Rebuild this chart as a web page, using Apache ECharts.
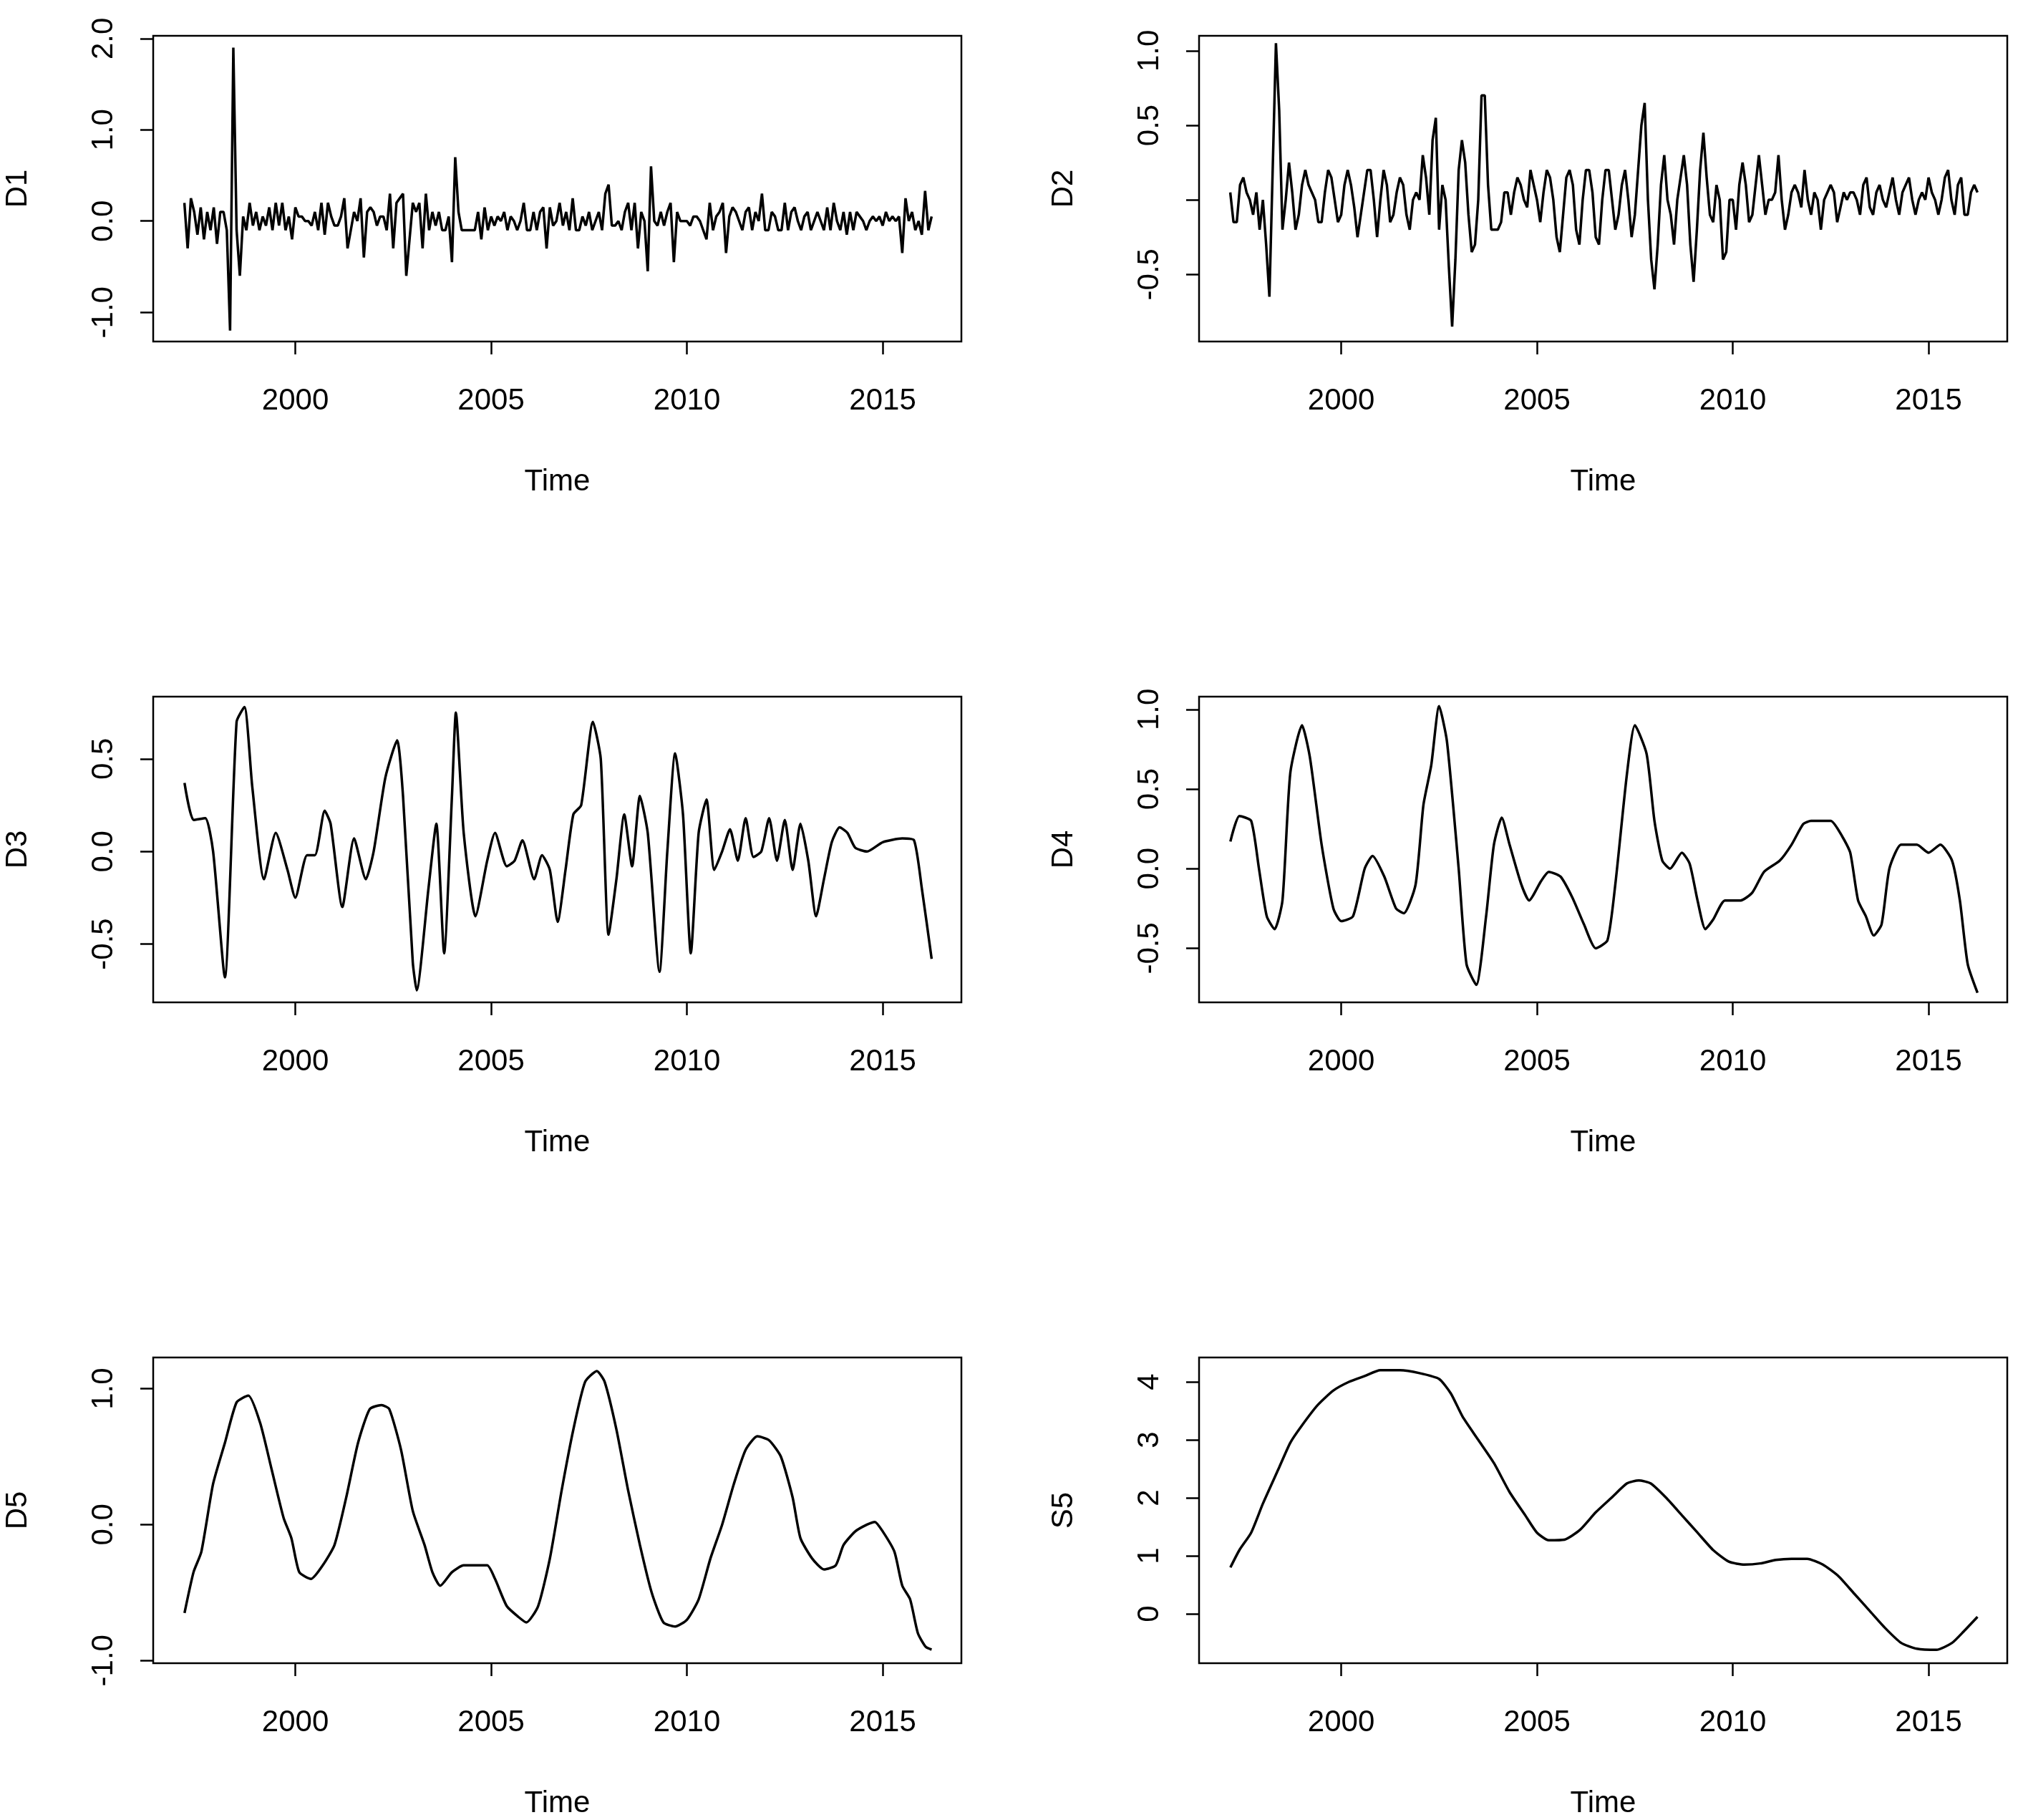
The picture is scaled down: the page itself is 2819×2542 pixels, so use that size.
<!DOCTYPE html>
<html lang="en">
<head>
<meta charset="UTF-8">
<title>Wavelet decomposition</title>
<script src="https://cdn.jsdelivr.net/npm/echarts@6/dist/echarts.min.js"></script>
<style>html,body{margin:0;padding:0;background:#fff}#main{width:2819px;height:2542px}</style>
</head>
<body>
<div id="main"></div>
<script>
// monthly series, start March 1997
let startMonthly = 1997 + 2 / 12;
let d1 = [
  0.2,-0.3,0.25,0.1,-0.15,0.15,-0.2,0.1,-0.1,0.15,
  -0.25,0.1,0.1,-0.1,-1.2,1.9,-0.1,-0.6,0.05,-0.1,0.2,-0.05,0.1,-0.1,
  0.05,-0.05,0.15,-0.1,0.2,-0.05,0.2,-0.1,0.05,-0.2,0.15,0.05,
  0.05,0,0.0,-0.05,0.1,-0.1,0.2,-0.15,0.2,0.05,-0.05,-0.05,
  0.05,0.25,-0.3,-0.1,0.1,0.0,0.25,-0.4,0.1,0.15,0.1,-0.05,
  0.05,0.05,-0.1,0.3,-0.3,0.2,0.25,0.3,-0.6,-0.2,0.2,0.1,
  0.2,-0.3,0.3,-0.1,0.1,-0.05,0.1,-0.1,-0.1,0.05,-0.45,0.7,
  0.1,-0.1,-0.1,-0.1,-0.1,-0.1,0.1,-0.2,0.15,-0.1,0.05,-0.05,
  0.05,0.0,0.1,-0.1,0.05,0.0,-0.1,0.0,0.2,-0.1,-0.1,0.1,
  -0.1,0.1,0.15,-0.3,0.15,-0.05,0.0,0.2,-0.05,0.1,-0.1,0.25,
  -0.1,-0.1,0.05,-0.05,0.1,-0.1,0.0,0.1,-0.1,0.3,0.4,-0.05,
  -0.05,0.0,-0.1,0.1,0.2,-0.1,0.2,-0.3,0.1,0.0,-0.55,0.6,
  0.0,-0.05,0.1,-0.05,0.1,0.2,-0.45,0.1,0.0,0.0,0.0,-0.05,
  0.05,0.05,0.0,-0.1,-0.2,0.2,-0.1,0.05,0.1,0.2,-0.35,0.05,
  0.15,0.1,0.0,-0.1,0.1,0.15,-0.1,0.1,0.0,0.3,-0.1,-0.1,
  0.1,0.05,-0.1,-0.1,0.2,-0.1,0.1,0.15,0.0,-0.1,0.05,0.1,
  -0.1,0.0,0.1,0.0,-0.1,0.15,-0.1,0.2,0.0,-0.1,0.1,-0.15,
  0.1,-0.1,0.1,0.05,0.0,-0.1,0.0,0.05,0.0,0.05,-0.05,0.1,
  0.0,0.05,0.0,0.05,-0.35,0.25,0.0,0.1,-0.1,0.0,-0.15,0.33,
  -0.1,0.05
];
let d2 = [
  0.05,-0.15,-0.15,0.1,0.15,0.05,0.0,-0.1,0.05,-0.2,
  0.0,-0.3,-0.65,0.2,1.05,0.6,-0.2,0.0,0.25,0.05,-0.2,-0.1,0.1,
  0.2,0.1,0.05,0.0,-0.15,-0.15,0.05,0.2,0.15,0.0,-0.15,
  -0.1,0.1,0.2,0.1,-0.05,-0.25,-0.1,0.05,0.2,0.2,0.0,-0.25,
  0.0,0.2,0.1,-0.15,-0.1,0.05,0.15,0.1,-0.1,-0.2,0.0,0.05,
  0.0,0.3,0.15,-0.1,0.4,0.55,-0.2,0.1,0.0,-0.45,-0.85,-0.4,
  0.2,0.4,0.25,-0.1,-0.35,-0.3,0.0,0.7,0.7,0.1,-0.2,-0.2,
  -0.2,-0.15,0.05,0.05,-0.1,0.05,0.15,0.1,0.0,-0.05,0.2,0.1,
  0.0,-0.15,0.05,0.2,0.15,0.0,-0.25,-0.35,-0.1,0.15,0.2,0.1,
  -0.2,-0.3,0.0,0.2,0.2,0.05,-0.25,-0.3,0.0,0.2,0.2,0.0,
  -0.2,-0.1,0.1,0.2,0.0,-0.25,-0.1,0.2,0.5,0.65,0.0,-0.4,
  -0.6,-0.3,0.1,0.3,0.0,-0.1,-0.3,0.0,0.15,0.3,0.1,-0.3,
  -0.55,-0.2,0.2,0.45,0.15,-0.1,-0.15,0.1,0.0,-0.4,-0.35,0.0,
  0.0,-0.2,0.1,0.25,0.1,-0.15,-0.1,0.1,0.3,0.1,-0.1,0.0,
  0.0,0.05,0.3,0.0,-0.2,-0.1,0.05,0.1,0.05,-0.05,0.2,0.0,
  -0.1,0.05,0.0,-0.2,0.0,0.05,0.1,0.05,-0.15,-0.05,0.05,0.0,
  0.05,0.05,0.0,-0.1,0.1,0.15,-0.05,-0.1,0.05,0.1,0.0,-0.05,
  0.05,0.15,0.0,-0.1,0.05,0.1,0.15,0.0,-0.1,0.0,0.05,0.0,
  0.15,0.05,0.0,-0.1,0.0,0.15,0.2,0.0,-0.1,0.1,0.15,-0.1,
  -0.1,0.05,0.1,0.05
];

// smoother components read at key points
let d3Time = [1997.17,1997.4,1997.7,1997.9,1998.2,1998.5,1998.7,1998.9,1999.2,1999.5,1999.8,2000.0,2000.3,2000.5,2000.75,2000.9,2001.2,2001.5,2001.8,2002.0,2002.3,2002.6,2002.75,2003.0,2003.1,2003.4,2003.6,2003.8,2004.0,2004.1,2004.3,2004.6,2004.9,2005.1,2005.4,2005.6,2005.8,2006.1,2006.3,2006.5,2006.7,2006.9,2007.1,2007.3,2007.6,2007.8,2008.0,2008.2,2008.4,2008.6,2008.8,2009.0,2009.3,2009.5,2009.7,2009.9,2010.1,2010.3,2010.5,2010.7,2010.9,2011.1,2011.3,2011.5,2011.7,2011.9,2012.1,2012.3,2012.5,2012.7,2012.9,2013.1,2013.3,2013.5,2013.7,2013.9,2014.1,2014.3,2014.6,2015.0,2015.5,2015.8,2016.0,2016.25];
let d3 = [0.37,0.17,0.18,0.0,-0.68,0.7,0.78,0.35,-0.15,0.1,-0.1,-0.25,-0.02,-0.02,0.22,0.15,-0.3,0.07,-0.15,0.0,0.4,0.6,0.3,-0.6,-0.75,-0.2,0.15,-0.55,0.3,0.75,0.1,-0.35,-0.05,0.1,-0.08,-0.05,0.06,-0.15,-0.02,-0.1,-0.38,-0.1,0.2,0.25,0.7,0.5,-0.45,-0.15,0.2,-0.08,0.3,0.1,-0.65,0.0,0.53,0.2,-0.55,0.1,0.28,-0.1,0.0,0.12,-0.05,0.18,-0.03,0.0,0.18,-0.05,0.17,-0.1,0.15,-0.05,-0.35,-0.15,0.05,0.13,0.1,0.02,0.0,0.05,0.07,0.06,-0.2,-0.58];

let d4Time = [1997.17,1997.4,1997.7,1997.9,1998.1,1998.3,1998.5,1998.7,1999.0,1999.2,1999.5,1999.8,2000.0,2000.3,2000.6,2000.8,2001.1,2001.4,2001.6,2001.9,2002.1,2002.3,2002.5,2002.7,2003.0,2003.2,2003.45,2003.7,2003.9,2004.1,2004.3,2004.6,2004.8,2005.1,2005.3,2005.6,2005.9,2006.2,2006.5,2006.8,2007.0,2007.3,2007.5,2007.8,2008.0,2008.2,2008.4,2008.7,2008.9,2009.1,2009.3,2009.5,2009.8,2010.2,2010.5,2010.8,2011.2,2011.5,2011.8,2012.0,2012.5,2012.8,2013.0,2013.2,2013.4,2013.6,2013.8,2014.0,2014.3,2014.7,2015.0,2015.3,2015.6,2015.8,2016.0,2016.25];
let d4 = [0.17,0.33,0.3,0.0,-0.3,-0.38,-0.2,0.6,0.9,0.7,0.15,-0.25,-0.33,-0.3,0.0,0.08,-0.05,-0.25,-0.28,-0.1,0.4,0.65,1.02,0.8,0.0,-0.6,-0.73,-0.3,0.15,0.32,0.15,-0.1,-0.2,-0.08,-0.02,-0.05,-0.18,-0.35,-0.5,-0.45,-0.1,0.6,0.9,0.72,0.3,0.05,0.0,0.1,0.03,-0.2,-0.38,-0.32,-0.2,-0.2,-0.15,-0.02,0.05,0.15,0.28,0.3,0.3,0.2,0.1,-0.2,-0.3,-0.42,-0.35,0.0,0.15,0.15,0.1,0.15,0.05,-0.2,-0.6,-0.78];

let d5Time = [1997.17,1997.4,1997.6,1997.9,1998.2,1998.5,1998.8,1999.1,1999.4,1999.7,1999.9,2000.1,2000.4,2000.7,2001.0,2001.3,2001.6,2001.9,2002.2,2002.4,2002.7,2003.0,2003.3,2003.5,2003.7,2004.0,2004.3,2004.6,2004.9,2005.1,2005.4,2005.7,2005.9,2006.2,2006.5,2006.8,2007.1,2007.4,2007.7,2007.9,2008.2,2008.5,2008.8,2009.1,2009.4,2009.7,2010.0,2010.3,2010.6,2010.9,2011.2,2011.5,2011.8,2012.1,2012.4,2012.7,2012.9,2013.2,2013.5,2013.8,2014.0,2014.3,2014.6,2014.8,2015.0,2015.3,2015.5,2015.7,2015.9,2016.1,2016.25];
let d5 = [-0.65,-0.35,-0.2,0.3,0.6,0.9,0.95,0.75,0.4,0.05,-0.1,-0.35,-0.4,-0.3,-0.15,0.2,0.6,0.85,0.88,0.85,0.55,0.1,-0.15,-0.35,-0.45,-0.35,-0.3,-0.3,-0.3,-0.4,-0.6,-0.68,-0.72,-0.6,-0.25,0.25,0.7,1.05,1.13,1.05,0.7,0.25,-0.15,-0.5,-0.72,-0.75,-0.7,-0.55,-0.25,0.0,0.3,0.55,0.65,0.62,0.5,0.2,-0.1,-0.25,-0.33,-0.3,-0.15,-0.05,0.0,0.02,-0.05,-0.2,-0.45,-0.55,-0.8,-0.9,-0.92];

let s5Time = [1997.17,1997.4,1997.7,1998.0,1998.4,1998.7,1999.0,1999.4,1999.8,2000.2,2000.6,2001.0,2001.5,2002.0,2002.5,2002.8,2003.1,2003.5,2003.9,2004.3,2004.7,2005.0,2005.3,2005.7,2006.1,2006.5,2006.9,2007.3,2007.6,2007.9,2008.3,2008.7,2009.1,2009.5,2009.9,2010.3,2010.7,2011.1,2011.5,2011.9,2012.3,2012.7,2013.1,2013.5,2013.9,2014.3,2014.7,2015.2,2015.6,2015.9,2016.25];
let s5 = [0.8,1.1,1.4,1.9,2.5,2.95,3.25,3.6,3.85,4.0,4.1,4.2,4.2,4.15,4.05,3.8,3.4,3.0,2.6,2.1,1.7,1.4,1.27,1.28,1.45,1.75,2.0,2.25,2.3,2.25,2.0,1.7,1.4,1.1,0.9,0.85,0.87,0.93,0.95,0.95,0.85,0.65,0.35,0.05,-0.25,-0.5,-0.6,-0.62,-0.5,-0.3,-0.05];

let xTicks = [2000, 2005, 2010, 2015];
let panelNames = ['D1', 'D2', 'D3', 'D4', 'D5', 'S5'];
let yRanges = [[-1.32, 2.03], [-0.95, 1.1], [-0.815, 0.836], [-0.84, 1.08], [-1.02, 1.23], [-0.85, 4.42]];
let yTicks = [[-1, 0, 1, 2], [-0.5, 0, 0.5, 1.0], [-0.5, 0, 0.5], [-0.5, 0, 0.5, 1.0], [-1, 0, 1], [0, 1, 2, 3, 4]];
let yLabelTicks = [[-1, 0, 1, 2], [-0.5, 0.5, 1.0], [-0.5, 0, 0.5], [-0.5, 0, 0.5, 1.0], [-1, 0, 1], [0, 1, 2, 3, 4]];
let yDigits = [1, 1, 1, 1, 1, 0];

function pairs(t, v) {
    return v.map(function (y, i) { return [t[i], y]; });
}
let monthlyTime = d1.map(function (_, i) { return startMonthly + i / 12; });
let seriesData = [
    pairs(monthlyTime, d1),
    pairs(monthlyTime, d2),
    pairs(d3Time, d3),
    pairs(d4Time, d4),
    pairs(d5Time, d5),
    pairs(s5Time, s5)
];

let font = 'Liberation Sans, Arial, sans-serif';
let lefts = [214, 1675];
let tops = [50, 973, 1896];
let grid = [], xAxis = [], yAxis = [], series = [];
for (let i = 0; i < 6; i++) {
    grid.push({
        left: lefts[i % 2], top: tops[Math.floor(i / 2)], width: 1129, height: 427,
        show: true, borderColor: '#000', borderWidth: 2.5, backgroundColor: 'transparent'
    });
    xAxis.push({
        type: 'value', gridIndex: i, min: 1996.37, max: 2017.01,
        name: 'Time', nameLocation: 'middle', nameGap: 175,
        nameTextStyle: {fontFamily: font, fontSize: 42, color: '#000'},
        axisLine: {show: false, onZero: false},
        axisTick: {show: true, length: 18, lineStyle: {color: '#000', width: 2.5}, customValues: xTicks},
        axisLabel: {fontFamily: font, fontSize: 42, color: '#000', margin: 62, customValues: xTicks,
            formatter: function (v) { return String(v); }},
        splitLine: {show: false}
    });
    let dg = yDigits[i];
    yAxis.push({
        type: 'value', gridIndex: i, min: yRanges[i][0], max: yRanges[i][1],
        name: panelNames[i], nameLocation: 'middle', nameGap: 168, nameRotate: 90,
        nameTextStyle: {fontFamily: font, fontSize: 42, color: '#000'},
        axisLine: {show: false, onZero: false},
        axisTick: {show: true, length: 18, lineStyle: {color: '#000', width: 2.5}, customValues: yTicks[i]},
        axisLabel: {
            fontFamily: font, fontSize: 42, color: '#000', rotate: 90, margin: 48,
            customValues: yLabelTicks[i],
            formatter: function (v) { return v.toFixed(dg); }
        },
        splitLine: {show: false}
    });
    series.push({
        type: 'line', xAxisIndex: i, yAxisIndex: i, data: seriesData[i],
        showSymbol: false, smooth: i >= 2 ? 0.2 : false,
        lineStyle: {color: '#000', width: 3.5}
    });
}

let myChart = echarts.init(document.getElementById('main'));
myChart.setOption({
    backgroundColor: '#fff',
    animation: false,
    grid: grid,
    xAxis: xAxis,
    yAxis: yAxis,
    series: series
});
</script>
</body>
</html>
